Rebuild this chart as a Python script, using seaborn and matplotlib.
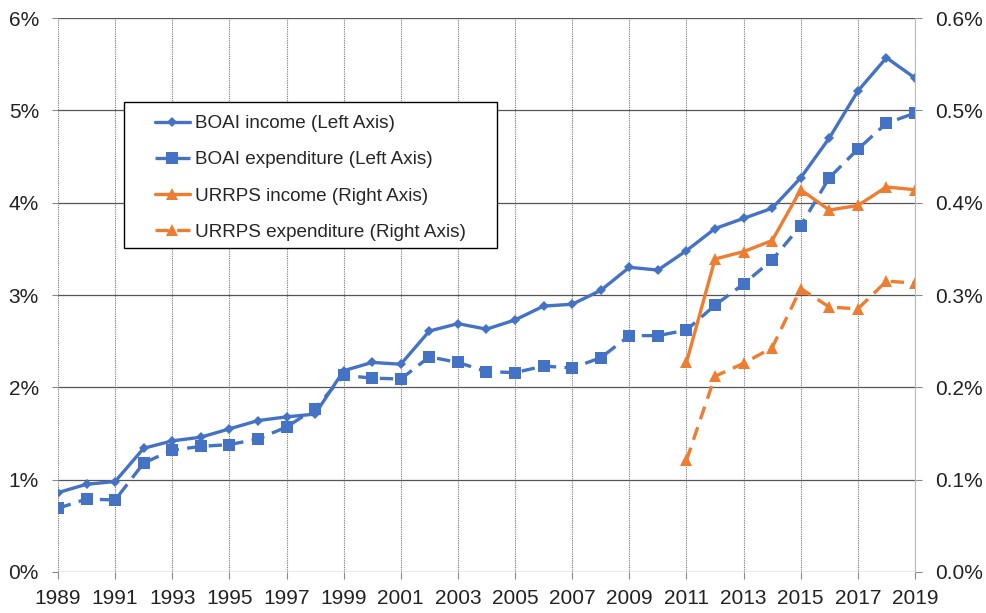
import pandas as pd
import matplotlib
matplotlib.use('Agg')
import matplotlib.pyplot as plt
import seaborn as sns
from matplotlib.patches import Rectangle
from matplotlib.ticker import PercentFormatter

# Dados (% do PIB)
years = list(range(1989, 2020))
boai_income = [0.86, 0.95, 0.98, 1.34, 1.42, 1.46, 1.55, 1.64, 1.68, 1.71,
               2.18, 2.27, 2.25, 2.61, 2.69, 2.63, 2.73, 2.88, 2.90, 3.05,
               3.30, 3.27, 3.48, 3.72, 3.83, 3.94, 4.27, 4.70, 5.21, 5.57, 5.35]
boai_expenditure = [0.69, 0.79, 0.78, 1.18, 1.32, 1.36, 1.38, 1.44, 1.57, 1.77,
                    2.13, 2.10, 2.09, 2.33, 2.27, 2.17, 2.16, 2.23, 2.21, 2.32,
                    2.56, 2.56, 2.62, 2.89, 3.12, 3.38, 3.75, 4.27, 4.58, 4.86, 4.97]
urrps_years = list(range(2011, 2020))
urrps_income = [0.227, 0.339, 0.347, 0.359, 0.414, 0.392, 0.397, 0.417, 0.414]
urrps_expenditure = [0.121, 0.212, 0.226, 0.243, 0.307, 0.287, 0.285, 0.315, 0.313]

xticks = list(range(1989, 2020, 2))

blue = '#4472C4'
orange = '#ED7D31'

sns.set_style('white')
plt.rcParams['font.family'] = ['Liberation Sans', 'DejaVu Sans']

df_boai = pd.DataFrame({'year': years, 'income': boai_income, 'expenditure': boai_expenditure})
df_urrps = pd.DataFrame({'year': urrps_years, 'income': urrps_income, 'expenditure': urrps_expenditure})

fig = plt.figure(figsize=(9.86, 6.13), dpi=100)
ax = fig.add_axes([0.0588, 0.0669, 0.8692, 0.9037])
ax2 = ax.twinx()

# Eixo esquerdo: BOAI
sns.lineplot(data=df_boai, x='year', y='income', ax=ax, color=blue, linewidth=2.4,
             marker='D', markersize=5, markeredgewidth=0,
             label='BOAI income (Left Axis)')
sns.lineplot(data=df_boai, x='year', y='expenditure', ax=ax, color=blue, linewidth=2.4,
             linestyle=(0, (4, 2.5)), marker='s', markersize=8, markeredgewidth=0,
             label='BOAI expenditure (Left Axis)')

# Eixo direito: URRPS
sns.lineplot(data=df_urrps, x='year', y='income', ax=ax2, color=orange, linewidth=2.4,
             marker='^', markersize=8, markeredgewidth=0,
             label='URRPS income (Right Axis)')
sns.lineplot(data=df_urrps, x='year', y='expenditure', ax=ax2, color=orange, linewidth=2.4,
             linestyle=(0, (4, 2.5)), marker='^', markersize=8, markeredgewidth=0,
             label='URRPS expenditure (Right Axis)')

ax.set_xlim(1989, 2019)
ax.set_ylim(0, 6)
ax2.set_ylim(0, 0.6)
ax.set_xticks(xticks)
ax.set_xticklabels([str(y) for y in xticks])
ax.set_yticks(range(0, 7))
ax2.set_yticks([0, 0.1, 0.2, 0.3, 0.4, 0.5, 0.6])
ax.yaxis.set_major_formatter(PercentFormatter(decimals=0))
ax2.yaxis.set_major_formatter(PercentFormatter(decimals=1))
ax.set_xlabel('')
ax.set_ylabel('')
ax2.set_ylabel('')

# Grelha
ax.grid(axis='y', color='#555555', linewidth=0.9, linestyle='-')
ax.grid(axis='x', color='#777777', linewidth=0.8, linestyle=(0, (1, 1)))
ax.set_axisbelow(True)

for a in (ax, ax2):
    for side in ['top', 'left', 'bottom', 'right']:
        a.spines[side].set_visible(False)
ax2.spines['right'].set_visible(True)
ax2.spines['right'].set_color('#bbbbbb')
ax2.spines['right'].set_linewidth(0.8)

ax.tick_params(axis='x', labelsize=15, colors='#222222', length=5, width=0.8,
               color='#888888', pad=7.5, bottom=True)
ax.tick_params(axis='y', labelsize=15, colors='#222222', length=4.3, width=0.8,
               color='#888888', pad=9.4, left=True)
ax2.tick_params(axis='y', labelsize=15, colors='#222222', length=5, width=0.8,
                color='#888888', pad=9.4, right=True)

# Legenda combinada, com moldura desenhada à parte
h1, l1 = ax.get_legend_handles_labels()
h2, l2 = ax2.get_legend_handles_labels()
ax.get_legend().remove()
ax2.get_legend().remove()
leg = ax2.legend(h1 + h2, l1 + l2, loc='upper left', bbox_to_anchor=(0.1132, 0.825),
                 borderaxespad=0, fontsize=13.6, frameon=False,
                 labelspacing=1.01, handlelength=1.85, handletextpad=0.26, borderpad=0)

fig.canvas.draw()
bb = leg.get_window_extent(fig.canvas.get_renderer())
pad_x, pad_top, pad_bottom = 31, 13, 7
x0, y0 = fig.transFigure.inverted().transform((bb.x0 - pad_x, bb.y0 - pad_bottom))
x1, y1 = fig.transFigure.inverted().transform((bb.x1 + pad_x, bb.y1 + pad_top))
frame = Rectangle((x0, y0), x1 - x0, y1 - y0, transform=fig.transFigure,
                  facecolor='white', edgecolor='black', linewidth=1.0, zorder=2)
fig.patches.append(frame)
leg.set_zorder(5)
ax2.set_zorder(3)
ax.set_zorder(1)
ax2.patch.set_visible(False)

fig.savefig('out.png', dpi=100)
